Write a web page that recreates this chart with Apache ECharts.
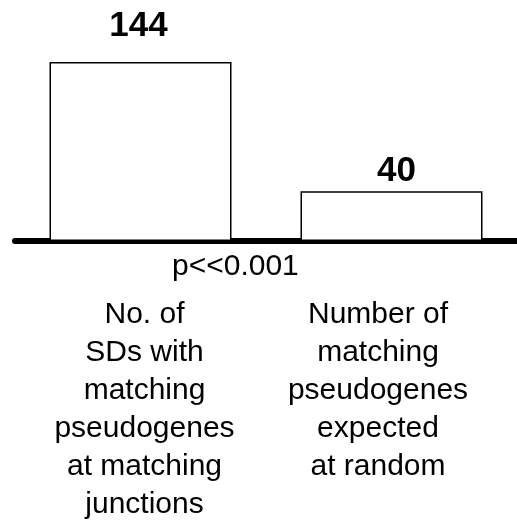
<!DOCTYPE html>
<html style="height: 100%">
<head>
  <meta charset="utf-8">
</head>
<body style="height: 100%; margin: 0; background: #fff">
  <div id="container" style="height: 100%"></div>
  <script type="text/javascript" src="https://cdn.jsdelivr.net/npm/echarts@6/dist/echarts.min.js"></script>
  <script type="text/javascript">
    var categories = [
      'No. of\nSDs with\nmatching\npseudogenes\nat matching\njunctions',
      'Number of\nmatching\npseudogenes\nexpected\nat random'
    ];
    var values = [144, 40];
    var pValueText = 'p<<0.001';

    var font = 'Liberation Sans, Arial, sans-serif';
    // value labels are not placed the same way over each bar in the original
    var labelGaps = [18, 2];
    var labelShifts = [-2, 5];
    // per-category rich style (second label sits a bit left of its bar)
    var richKeys = ['l', 'r'];

    var dom = document.getElementById('container');
    var myChart = echarts.init(dom);

    var option = {
      animation: false,
      title: {
        text: pValueText,
        left: 167,
        top: 247,
        textStyle: {
          fontFamily: font,
          fontSize: 30,
          fontWeight: 'normal',
          color: '#000'
        }
      },
      grid: {
        left: 15,
        right: 0,
        top: 42,
        height: 199
      },
      xAxis: {
        type: 'category',
        data: categories,
        axisLine: {
          lineStyle: { color: '#000', width: 6, cap: 'round' }
        },
        axisTick: { show: false },
        axisLabel: {
          margin: 55,
          interval: 0,
          formatter: function (value, idx) {
            var k = richKeys[idx];
            return value.split('\n').map(function (s) {
              return '{' + k + '|' + s + '}';
            }).join('\n');
          },
          rich: {
            l: {
              fontFamily: font, fontSize: 30, lineHeight: 38, color: '#000',
              padding: [0, 0, 0, 8]
            },
            r: {
              fontFamily: font, fontSize: 30, lineHeight: 38, color: '#000',
              padding: [0, 27, 0, 0]
            }
          }
        }
      },
      yAxis: {
        type: 'value',
        min: 0,
        max: 160,
        show: false,
        splitLine: { show: false }
      },
      series: [{
        type: 'bar',
        barWidth: 182,
        data: values.map(function (v, i) {
          return {
            value: v,
            label: { distance: labelGaps[i], offset: [labelShifts[i], 0] }
          };
        }),
        itemStyle: {
          color: '#fff',
          borderColor: '#000',
          borderWidth: 1.5
        },
        label: {
          show: true,
          position: 'top',
          fontFamily: font,
          fontSize: 35,
          fontWeight: 'bold',
          color: '#000'
        }
      }]
    };

    myChart.setOption(option);
  </script>
</body>
</html>
